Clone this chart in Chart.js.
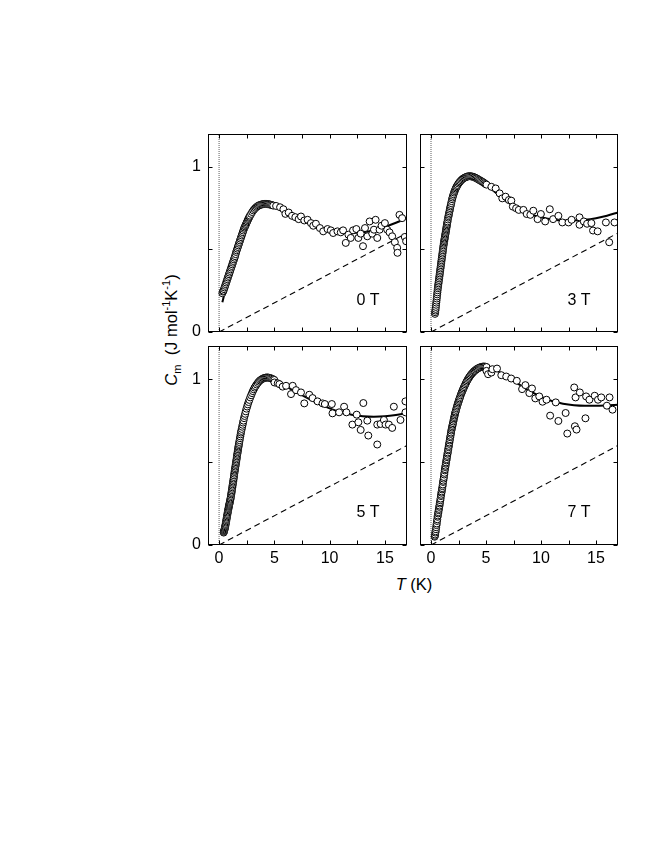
<!DOCTYPE html>
<html>
<head>
<meta charset="utf-8">
<script src="https://cdn.jsdelivr.net/npm/chart.js@4.4.1/dist/chart.umd.min.js"></script>
<style>
  html, body { margin:0; padding:0; background:#fff; }
  body { width:664px; height:860px; position:relative; overflow:hidden; font-family:"Liberation Sans", Arial, Helvetica, sans-serif; color:#000; }
  .cv { position:absolute; }
  .txt { position:absolute; white-space:nowrap; transform:translate(-50%,-50%); font-size:16px; line-height:1; }
  .ytitle { transform:translate(-50%,-50%) rotate(-90deg); font-size:16.5px; }
  sub, sup { font-size:11px; line-height:0; }
</style>
</head>
<body>
<div class="txt ytitle" style="left:171px; top:330px;"><i>C</i><sub>m</sub>&nbsp; (J mol<sup>-1</sup>K<sup>-1</sup>)</div>
<div class="txt" style="left:414px; top:584px; font-size:16.5px;"><i>T</i> (K)</div>
<script>
// ---- data (T in K, Cm in J mol^-1 K^-1) ----
const fieldLabels = ['0 T', '3 T', '5 T', '7 T'];
const xTickLabels = [0, 5, 10, 15];
const yTickLabels = [0, 1];
const xMinorTicks = [0, 2.5, 5, 7.5, 10, 12.5, 15];
const yMinorTicks = [0, 0.5, 1];

const data0T = [[0.3,0.235],[0.35,0.245],[0.4,0.25],[0.45,0.26],[0.5,0.27],[0.55,0.28],[0.6,0.29],[0.65,0.30],[0.7,0.31],[0.75,0.32],[0.8,0.33],[0.85,0.34],[0.9,0.35],[0.95,0.36],[1.0,0.37],[1.05,0.38],[1.1,0.39],[1.15,0.40],[1.2,0.41],[1.25,0.42],[1.3,0.43],[1.35,0.44],[1.4,0.45],[1.45,0.46],[1.5,0.472],[1.55,0.485],[1.6,0.495],[1.65,0.505],[1.7,0.515],[1.75,0.525],[1.8,0.535],[1.85,0.545],[1.9,0.555],[1.95,0.565],[2.0,0.575],[2.05,0.585],[2.1,0.595],[2.15,0.605],[2.2,0.615],[2.25,0.625],[2.3,0.633],[2.35,0.64],[2.4,0.648],[2.45,0.655],[2.5,0.663],[2.55,0.67],[2.6,0.678],[2.65,0.685],[2.7,0.692],[2.75,0.698],[2.8,0.705],[2.9,0.716],[3.0,0.727],[3.1,0.737],[3.2,0.745],[3.3,0.752],[3.4,0.758],[3.5,0.763],[3.6,0.767],[3.7,0.77],[3.8,0.772],[3.9,0.774],[4.0,0.775],[4.1,0.776],[4.2,0.776],[4.3,0.776],[4.4,0.775],[4.5,0.774],[4.6,0.773],[4.7,0.771],[4.8,0.769],[4.9,0.766],
[5.16,0.764],[5.52,0.756],[5.82,0.744],[6.0,0.716],[6.3,0.724],[6.6,0.704],[6.9,0.696],[7.2,0.684],[7.41,0.70],[7.71,0.676],[8.01,0.68],[8.31,0.66],[8.52,0.644],[8.76,0.656],[9.12,0.63],[9.42,0.61],[9.81,0.624],[10.11,0.616],[10.32,0.60],[10.71,0.61],[11.01,0.604],[11.22,0.616],
[11.46,0.54],[11.7,0.59],[11.91,0.57],[12.12,0.616],[12.42,0.624],[12.6,0.57],[12.81,0.596],[13.02,0.52],[13.2,0.63],[13.41,0.58],[13.62,0.67],[13.86,0.596],[14.01,0.62],[14.16,0.68],[14.31,0.57],[14.52,0.62],[14.7,0.644],[15.0,0.66],[15.21,0.62],[15.42,0.604],[15.66,0.58],[15.9,0.544],[16.11,0.51],[16.14,0.48],[16.32,0.71],[16.56,0.69],[16.8,0.576],[16.92,0.55]];
const fit0T = [[0.3,0.18],[0.5,0.235],[0.75,0.305],[1.0,0.365],[1.25,0.42],[1.5,0.475],[1.75,0.525],[2.0,0.578],[2.25,0.627],[2.5,0.665],[2.75,0.70],[3.0,0.728],[3.5,0.762],[4.0,0.774],[4.5,0.772],[5.0,0.762],[5.5,0.748],[6.0,0.73],[7.0,0.69],[8.0,0.66],[9.0,0.635],[10.0,0.617],[11.0,0.605],[12.0,0.601],[13.0,0.605],[14.0,0.617],[15.0,0.637],[16.0,0.662],[17.0,0.69]];

const data3T = [[0.36,0.11],[0.38,0.12],[0.4,0.13],[0.42,0.14],[0.44,0.152],[0.46,0.165],[0.48,0.178],[0.5,0.19],[0.52,0.203],[0.54,0.215],[0.56,0.228],[0.58,0.24],[0.6,0.253],[0.62,0.265],[0.64,0.275],[0.66,0.285],[0.68,0.295],[0.7,0.305],[0.72,0.315],[0.74,0.325],[0.76,0.335],[0.78,0.345],[0.8,0.355],[0.82,0.365],[0.84,0.375],[0.86,0.385],[0.88,0.395],[0.9,0.405],[0.92,0.415],[0.94,0.425],[0.96,0.435],[0.98,0.445],[1.0,0.455],[1.02,0.465],[1.04,0.475],[1.06,0.485],[1.08,0.495],[1.1,0.505],[1.12,0.515],[1.14,0.525],[1.16,0.534],[1.18,0.542],[1.2,0.55],[1.22,0.558],[1.24,0.566],[1.26,0.574],[1.28,0.582],[1.3,0.59],[1.32,0.598],[1.34,0.606],[1.36,0.614],[1.38,0.622],[1.4,0.63],[1.42,0.638],[1.44,0.646],[1.46,0.654],[1.48,0.662],[1.5,0.67],[1.53,0.682],[1.56,0.693],[1.59,0.702],[1.62,0.711],[1.65,0.721],[1.68,0.731],[1.71,0.741],[1.74,0.751],[1.77,0.761],[1.8,0.77],[1.84,0.781],[1.88,0.793],[1.92,0.805],[1.96,0.815],[2.0,0.825],[2.05,0.835],[2.1,0.845],[2.15,0.854],[2.2,0.862],[2.25,0.87],[2.3,0.877],[2.36,0.884],[2.42,0.891],[2.5,0.9],[2.58,0.907],[2.66,0.913],[2.75,0.92],[2.85,0.926],[2.95,0.931],[3.05,0.935],[3.15,0.938],[3.25,0.941],[3.35,0.943],[3.45,0.944],[3.55,0.944],[3.65,0.943],[3.75,0.942],[3.85,0.94],[3.95,0.937],[4.05,0.934],[4.15,0.931],[4.25,0.927],[4.35,0.923],[4.45,0.919],[4.55,0.915],[4.65,0.911],[4.75,0.907],[4.85,0.902],[4.95,0.897],[5.05,0.893],
[5.49,0.88],[5.88,0.87],[6.24,0.84],[6.48,0.81],[6.78,0.82],[7.08,0.80],[7.3,0.796],[7.44,0.76],[7.74,0.75],[7.98,0.74],[8.4,0.74],[8.7,0.715],[9.03,0.71],[9.3,0.735],[9.69,0.684],[9.99,0.715],[10.38,0.67],[10.8,0.744],[11.1,0.684],[11.58,0.704],[11.94,0.664],[12.5,0.664],[12.78,0.68],[13.5,0.695],[13.5,0.65],[13.89,0.67],[14.19,0.656],[14.58,0.66],[14.73,0.615],[15.15,0.61],[15.9,0.664],[16.68,0.664],[16.2,0.544]];
const fit3T = [[0.35,0.1],[0.5,0.185],[0.75,0.325],[1.0,0.455],[1.25,0.57],[1.5,0.67],[1.75,0.755],[2.0,0.822],[2.25,0.868],[2.5,0.9],[2.75,0.92],[3.0,0.933],[3.5,0.944],[4.0,0.937],[4.5,0.917],[5.0,0.893],[5.5,0.865],[6.0,0.838],[6.5,0.81],[7.0,0.785],[8.0,0.745],[9.0,0.715],[10.0,0.695],[11.0,0.682],[12.0,0.676],[13.0,0.676],[14.0,0.68],[15.0,0.69],[16.0,0.705],[17.0,0.725]];

const data5T = [[0.42,0.075],[0.44,0.08],[0.46,0.085],[0.48,0.09],[0.5,0.095],[0.52,0.101],[0.54,0.107],[0.56,0.113],[0.58,0.12],[0.6,0.127],[0.62,0.135],[0.64,0.142],[0.66,0.15],[0.68,0.157],[0.7,0.165],[0.72,0.172],[0.74,0.18],[0.76,0.187],[0.78,0.195],[0.8,0.202],[0.82,0.21],[0.84,0.216],[0.86,0.223],[0.88,0.23],[0.9,0.236],[0.92,0.242],[0.94,0.248],[0.96,0.254],[0.98,0.26],[1.0,0.266],[1.02,0.273],[1.04,0.28],[1.06,0.288],[1.08,0.296],[1.1,0.305],[1.12,0.313],[1.14,0.321],[1.16,0.33],[1.18,0.339],[1.2,0.348],[1.22,0.357],[1.24,0.366],[1.26,0.375],[1.28,0.383],[1.3,0.392],[1.32,0.401],[1.34,0.41],[1.36,0.42],[1.38,0.43],[1.4,0.44],[1.42,0.448],[1.44,0.456],[1.46,0.464],[1.48,0.473],[1.5,0.482],[1.52,0.49],[1.54,0.499],[1.56,0.507],[1.58,0.516],[1.6,0.525],[1.62,0.534],[1.64,0.543],[1.66,0.551],[1.68,0.56],[1.7,0.568],[1.72,0.577],[1.74,0.586],[1.76,0.594],[1.78,0.602],[1.8,0.61],[1.83,0.621],[1.86,0.632],[1.89,0.644],[1.92,0.655],[1.95,0.667],[1.98,0.678],[2.01,0.688],[2.05,0.7],[2.09,0.713],[2.13,0.725],[2.17,0.738],[2.21,0.75],[2.26,0.765],[2.31,0.778],[2.36,0.791],[2.42,0.806],[2.48,0.822],[2.54,0.835],[2.6,0.848],[2.67,0.862],[2.74,0.875],[2.82,0.89],[2.9,0.903],[2.98,0.916],[3.06,0.928],[3.14,0.939],[3.22,0.949],[3.3,0.958],[3.4,0.968],[3.5,0.977],[3.6,0.985],[3.7,0.992],[3.8,0.997],[3.9,1.001],[4.0,1.005],[4.1,1.007],[4.2,1.009],[4.3,1.01],[4.4,1.01],[4.5,1.009],[4.6,1.007],[4.7,1.005],[4.8,1.002],[4.9,0.999],[5.0,0.995],
[5.01,0.98],[5.31,0.975],[5.46,0.97],[5.75,0.955],[6.06,0.96],[6.51,0.91],[6.66,0.96],[6.96,0.934],[7.41,0.92],[7.71,0.854],[8.16,0.906],[8.46,0.886],[8.91,0.866],[9.36,0.854],[9.57,0.85],[10.2,0.85],[10.26,0.794],[10.86,0.80],[11.31,0.834],[11.52,0.80],[12.06,0.726],[12.45,0.786],[12.6,0.74],[12.81,0.694],[13.05,0.856],[13.41,0.75],[13.5,0.66],[14.31,0.726],[14.31,0.606],[14.61,0.73],[14.91,0.754],[15.06,0.726],[15.36,0.726],[15.66,0.706],[15.81,0.834],[16.41,0.754],[16.86,0.866],[16.86,0.80]];
const fit5T = [[0.42,0.07],[0.6,0.125],[0.8,0.195],[1.0,0.265],[1.25,0.37],[1.5,0.482],[1.75,0.59],[2.0,0.685],[2.25,0.762],[2.5,0.826],[2.75,0.877],[3.0,0.918],[3.5,0.975],[4.0,1.004],[4.5,1.009],[5.0,0.997],[5.5,0.98],[6.0,0.96],[7.0,0.922],[8.0,0.885],[9.0,0.852],[10.0,0.824],[11.0,0.802],[12.0,0.786],[13.0,0.777],[14.0,0.774],[15.0,0.776],[16.0,0.784],[17.0,0.796]];

const data7T = [[0.33,0.05],[0.35,0.055],[0.37,0.063],[0.4,0.075],[0.42,0.083],[0.45,0.095],[0.47,0.107],[0.5,0.12],[0.52,0.13],[0.55,0.145],[0.57,0.155],[0.6,0.17],[0.62,0.178],[0.65,0.19],[0.67,0.198],[0.7,0.21],[0.72,0.218],[0.75,0.23],[0.77,0.238],[0.8,0.25],[0.82,0.258],[0.85,0.27],[0.87,0.28],[0.9,0.295],[0.92,0.303],[0.95,0.315],[0.97,0.323],[1.0,0.335],[1.02,0.343],[1.05,0.355],[1.07,0.365],[1.1,0.38],[1.12,0.388],[1.15,0.4],[1.17,0.41],[1.2,0.425],[1.22,0.435],[1.25,0.45],[1.27,0.458],[1.3,0.47],[1.32,0.478],[1.35,0.49],[1.37,0.498],[1.4,0.51],[1.42,0.518],[1.45,0.53],[1.47,0.538],[1.5,0.55],[1.52,0.558],[1.55,0.57],[1.57,0.578],[1.6,0.59],[1.62,0.598],[1.65,0.61],[1.67,0.618],[1.7,0.63],[1.72,0.638],[1.75,0.65],[1.77,0.658],[1.8,0.67],[1.82,0.678],[1.85,0.69],[1.88,0.699],[1.91,0.708],[1.94,0.717],[1.97,0.726],[2.0,0.735],[2.03,0.745],[2.06,0.755],[2.09,0.764],[2.12,0.772],[2.15,0.781],[2.18,0.79],[2.21,0.798],[2.24,0.805],[2.28,0.815],[2.32,0.825],[2.36,0.834],[2.4,0.843],[2.44,0.852],[2.48,0.86],[2.52,0.868],[2.56,0.876],[2.6,0.884],[2.65,0.893],[2.7,0.903],[2.75,0.912],[2.8,0.92],[2.85,0.928],[2.9,0.936],[2.95,0.944],[3.0,0.952],[3.06,0.96],[3.12,0.969],[3.18,0.977],[3.24,0.985],[3.3,0.993],[3.37,1.001],[3.44,1.008],[3.51,1.015],[3.58,1.022],[3.66,1.029],[3.74,1.035],[3.82,1.041],[3.9,1.047],[3.98,1.051],[4.07,1.056],[4.16,1.061],[4.25,1.064],[4.35,1.068],[4.45,1.071],[4.55,1.073],[4.65,1.075],[4.75,1.076],[4.85,1.076],[4.95,1.075],[5.05,1.073],
[5.04,1.05],[5.19,1.03],[5.49,1.04],[5.58,1.06],[6.0,1.064],[6.39,1.024],[6.84,1.016],[7.29,1.004],[7.8,0.99],[8.28,0.94],[8.58,0.964],[8.94,0.916],[9.18,0.944],[9.48,0.884],[9.84,0.896],[10.14,0.864],[10.5,0.876],[10.83,0.78],[11.34,0.86],[11.58,0.748],[12.24,0.796],[12.39,0.672],[13.02,0.95],[13.08,0.716],[13.14,0.89],[13.23,0.696],[13.53,0.92],[14.04,0.764],[14.1,0.896],[14.4,0.876],[14.88,0.9],[15.18,0.876],[15.48,0.89],[15.99,0.84],[16.23,0.89],[16.5,0.816]];
const fit7T = [[0.35,0.05],[0.5,0.115],[0.75,0.225],[1.0,0.332],[1.25,0.445],[1.5,0.55],[1.75,0.65],[2.0,0.735],[2.25,0.807],[2.5,0.866],[2.75,0.913],[3.0,0.952],[3.5,1.013],[4.0,1.052],[4.5,1.072],[5.0,1.078],[5.5,1.07],[6.0,1.052],[6.5,1.032],[7.0,1.01],[8.0,0.968],[9.0,0.928],[10.0,0.895],[11.0,0.868],[12.0,0.852],[13.0,0.843],[14.0,0.84],[15.0,0.84],[16.0,0.842],[17.0,0.845]];

const linearTerm = [[0, 0], [17, 0.6]];
const zeroLine = [[0, 0], [0, 1.2]];

// ---- layout ----
const AREA = 200, PAD = 4, YW = 34, XH = 30;
const panels = [
  { label: fieldLabels[0], data: data0T, fit: fit0T, left: 208, top: 133, showX: false, showY: true },
  { label: fieldLabels[1], data: data3T, fit: fit3T, left: 419, top: 133, showX: false, showY: false },
  { label: fieldLabels[2], data: data5T, fit: fit5T, left: 208, top: 345, showX: true,  showY: true },
  { label: fieldLabels[3], data: data7T, fit: fit7T, left: 419, top: 345, showX: true,  showY: false },
];
const FONT = { family: '"Liberation Sans", Arial, Helvetica, sans-serif', size: 16 };
const toXY = arr => arr.map(p => ({ x: p[0], y: p[1] }));
const zeroPad = s => { s.paddingLeft = 0; s.paddingRight = 0; s.paddingTop = 0; s.paddingBottom = 0; };

const framePlugin = {
  id: 'frame',
  afterDatasetsDraw(chart) {
    const { ctx, chartArea: a, scales: { x, y } } = chart;
    ctx.save();
    ctx.strokeStyle = '#000';
    ctx.lineWidth = 1;
    const L = Math.round(a.left) + 0.5, R = Math.round(a.right) - 0.5;
    const T = Math.round(a.top) + 0.5, B = Math.round(a.bottom) - 0.5;
    ctx.strokeRect(L, T, R - L, B - T);
    ctx.beginPath();
    xMinorTicks.forEach(v => {
      const px = Math.round(x.getPixelForValue(v)) + 0.5;
      ctx.moveTo(px, B); ctx.lineTo(px, B - 4);
      ctx.moveTo(px, T); ctx.lineTo(px, T + 4);
    });
    yMinorTicks.forEach(v => {
      const py = Math.round(y.getPixelForValue(v)) + 0.5;
      ctx.moveTo(L, py); ctx.lineTo(L + 4, py);
      ctx.moveTo(R, py); ctx.lineTo(R - 4, py);
    });
    ctx.stroke();
    ctx.restore();
  }
};

panels.forEach(p => {
  const leftExtra = p.showY ? YW : PAD;
  const bottomExtra = p.showX ? XH : PAD;
  const w = leftExtra + AREA + PAD;
  const h = PAD + AREA + bottomExtra;
  const cv = document.createElement('canvas');
  cv.className = 'cv';
  cv.width = w; cv.height = h;
  cv.style.left = (p.left - leftExtra) + 'px';
  cv.style.top = (p.top - PAD) + 'px';
  cv.style.width = w + 'px'; cv.style.height = h + 'px';
  document.body.appendChild(cv);

  const lab = document.createElement('div');
  lab.className = 'txt';
  lab.style.left = (p.left + 160) + 'px';
  lab.style.top = (p.top + 167) + 'px';
  lab.textContent = p.label;
  document.body.appendChild(lab);

  const xScale = {
    type: 'linear', min: -1, max: 17, display: p.showX,
    grid: { display: false, drawTicks: false }, border: { display: false },
    ticks: { color: '#000', font: FONT, padding: 4, maxRotation: 0, autoSkip: false },
    afterBuildTicks: s => { s.ticks = xTickLabels.map(v => ({ value: v })); },
    afterFit: s => { zeroPad(s); if (p.showX) s.height = XH; }
  };
  const yScale = {
    type: 'linear', min: 0, max: 1.2, display: p.showY,
    grid: { display: false, drawTicks: false }, border: { display: false },
    ticks: { color: '#000', font: FONT, padding: 7, autoSkip: false },
    afterBuildTicks: s => { s.ticks = yTickLabels.map(v => ({ value: v })); },
    afterFit: s => { zeroPad(s); if (p.showY) s.width = YW; }
  };

  new Chart(cv, {
    type: 'scatter',
    data: {
      datasets: [
        { label: 'data ' + p.label, data: toXY(p.data), showLine: false,
          pointStyle: 'circle', pointRadius: 3.5, pointBorderWidth: 1,
          pointBorderColor: '#000', pointBackgroundColor: '#fff', order: 0 },
        { label: 'fit', data: toXY(p.fit), showLine: true, pointRadius: 0,
          borderColor: '#000', borderWidth: 2, cubicInterpolationMode: 'monotone', order: 1 },
        { label: 'linear', data: toXY(linearTerm), showLine: true, pointRadius: 0,
          borderColor: '#000', borderWidth: 1.1, borderDash: [6, 4], order: 2 },
        { label: 'zero', data: toXY(zeroLine), showLine: true, pointRadius: 0,
          borderColor: '#333', borderWidth: 0.8, borderDash: [1, 1], order: 3 }
      ]
    },
    options: {
      responsive: false, animation: false, devicePixelRatio: 1,
      layout: { padding: { left: p.showY ? 0 : PAD, right: PAD, top: PAD, bottom: p.showX ? 0 : PAD } },
      plugins: { legend: { display: false }, tooltip: { enabled: false } },
      scales: { x: xScale, y: yScale }
    },
    plugins: [framePlugin]
  });
});
</script>
</body>
</html>
